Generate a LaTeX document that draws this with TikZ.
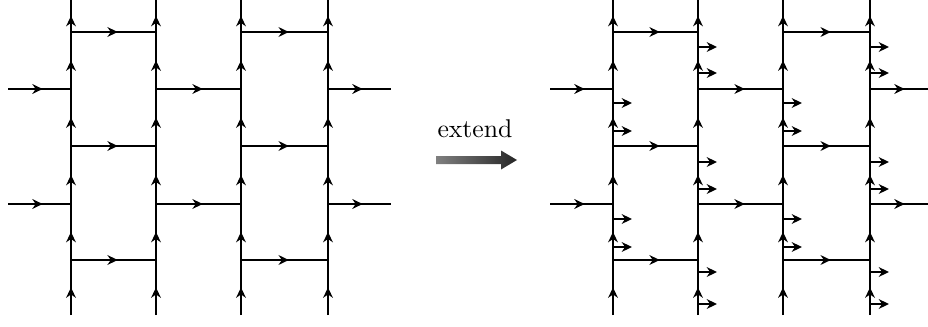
\documentclass[tikz,border=0pt]{standalone}
\usepackage{tikz}
\usetikzlibrary{arrows.meta,decorations.markings}
\tikzset{
  tip/.tip={Stealth[length=4pt,width=3.8pt,inset=1.3pt]},
  upmid/.style={thick, decoration={markings, mark=at position 0.5 with {\arrow{tip}}}, postaction={decorate}},
  rightmid/.style={thick, decoration={markings, mark=at position 0.55 with {\arrow{tip}}}, postaction={decorate}},
  stub/.style={thick, -tip}
}
\begin{document}
\begin{tikzpicture}[x=0.389pt, y=-0.389pt]
\useasboundingbox (0,0) rectangle (928,327);
\foreach \p/\dx in {l/0, r/542} {
  % junction points
  \foreach \i/\x in {0/8, 1/71, 2/156, 3/241, 4/328, 5/391} {
    \foreach \j/\y in {0/0, 1/32, 2/89, 3/146, 4/204, 5/260, 6/315} {
      \coordinate (\p-\i-\j) at (\x+\dx, \y);
    }
  }
  % columns, pointing up
  \foreach \i in {1,...,4} {
    \foreach \j [count=\k from 1] in {0,...,5} {
      \draw [upmid] (\p-\i-\k) -- (\p-\i-\j);
    }
  }
  % rungs
  \foreach \j in {1,3,5} {
    \draw [rightmid] (\p-1-\j) -- (\p-2-\j);
    \draw [rightmid] (\p-3-\j) -- (\p-4-\j);
  }
  \foreach \j in {2,4} {
    \draw [rightmid] (\p-0-\j) -- (\p-1-\j);
    \draw [rightmid] (\p-2-\j) -- (\p-3-\j);
    \draw [rightmid] (\p-4-\j) -- (\p-5-\j);
  }
}
% extra legs on the right copy
\foreach \i in {1,3} {
  \foreach \y [count=\n] in {103,131,219,247} {
    \path (r-\i-0) ++(0,\y) coordinate (s-\i-\n) ++(19,0) coordinate (t-\i-\n);
    \draw [stub] (s-\i-\n) -- (t-\i-\n);
  }
}
\foreach \i in {2,4} {
  \foreach \y [count=\n] in {47,73,162,189,272,304} {
    \path (r-\i-0) ++(0,\y) coordinate (s-\i-\n) ++(19,0) coordinate (t-\i-\n);
    \draw [stub] (s-\i-\n) -- (t-\i-\n);
  }
}
% extend arrow
\node (ext) at (475,137) [anchor=base] {extend};
\shade [left color=black!50, right color=black!85] (436,156) -- (501,156) -- (501,150.5) -- (517,160) -- (501,169.5) -- (501,164) -- (436,164) -- cycle;
\end{tikzpicture}
\end{document}
